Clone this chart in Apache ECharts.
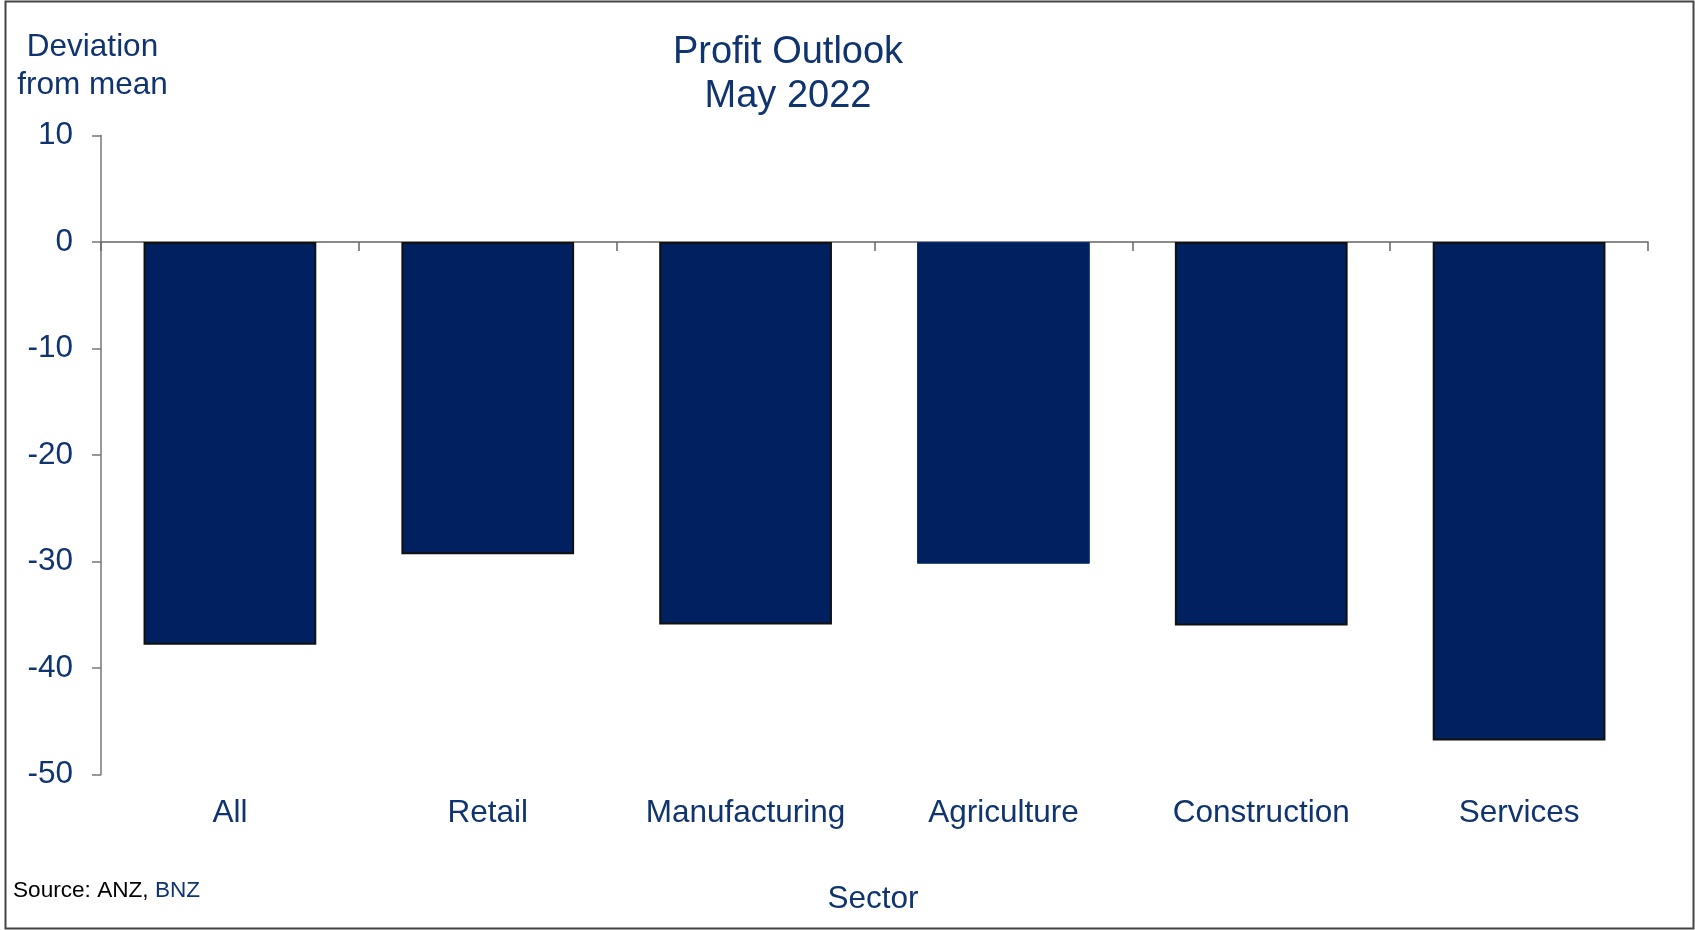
<!DOCTYPE html>
<html>
<head>
<meta charset="utf-8">
<script src="https://cdn.jsdelivr.net/npm/echarts@6/dist/echarts.min.js"></script>
<style>
html,body{margin:0;padding:0;background:#fff;}
#chart{width:1695px;height:930px;}
</style>
</head>
<body>
<div id="chart"></div>
<script>
const categories = ['All', 'Retail', 'Manufacturing', 'Agriculture', 'Construction', 'Services'];
const profitDeviation = [-37.8, -29.3, -35.9, -30.2, -36.0, -46.8];
const yMin = -50, yMax = 10, yStep = 10;

const FONT = "'Liberation Sans', Arial, sans-serif";
const TEXT = '#0f3470';
const BAR = '#002060';

const chart = echarts.init(document.getElementById('chart'), null, {renderer: 'canvas'});

const barData = profitDeviation.map((v, i) => ({
  value: v,
  itemStyle: categories[i] === 'Agriculture'
    ? {color: BAR, borderColor: '#0a2c6a', borderWidth: 1}
    : {color: BAR, borderColor: '#111', borderWidth: 2}
}));

chart.setOption({
  animation: false,
  backgroundColor: '#fff',
  textStyle: {fontFamily: FONT},
  title: [
    {text: 'Profit Outlook\nMay 2022', left: 788, top: 31, padding: 0, textAlign: 'center',
     textStyle: {fontFamily: FONT, fontSize: 38, fontWeight: 'normal', lineHeight: 44, color: TEXT}},
    {text: 'Deviation\nfrom mean', left: 92.5, top: 28, padding: 0, textAlign: 'center',
     textStyle: {fontFamily: FONT, fontSize: 31.5, fontWeight: 'normal', lineHeight: 38, color: TEXT}},
    {text: 'Sector', left: 873, top: 884, padding: 0, textAlign: 'center',
     textStyle: {fontFamily: FONT, fontSize: 31.5, fontWeight: 'normal', lineHeight: 31, color: TEXT}},
    {text: '{a|Source: ANZ, }{b|BNZ}', left: 13, top: 879, padding: 0,
     textStyle: {fontFamily: FONT, fontSize: 22.6, fontWeight: 'normal', lineHeight: 23,
       rich: {a: {fontFamily: FONT, fontSize: 22.6, color: '#000', lineHeight: 23},
              b: {fontFamily: FONT, fontSize: 22.6, color: TEXT, lineHeight: 23}}}}
  ],
  grid: {left: 101, right: 47, top: 135.5, bottom: 155.3, containLabel: false},
  xAxis: [
    {
      type: 'category', data: categories, position: 'bottom',
      axisLine: {show: false, onZero: false}, axisTick: {show: false},
      axisLabel: {color: TEXT, fontSize: 31.5, fontFamily: FONT, margin: 23, interval: 0}
    },
    {
      type: 'category', data: categories, position: 'bottom',
      axisLine: {show: true, onZero: true, lineStyle: {color: '#666', width: 1.5}},
      axisTick: {show: true, length: 9, lineStyle: {color: '#666', width: 1.5}},
      axisLabel: {show: false}
    }
  ],
  yAxis: {
    type: 'value', min: yMin, max: yMax, interval: yStep,
    axisLine: {show: true, lineStyle: {color: '#777', width: 1.5}},
    axisTick: {show: true, length: 9, lineStyle: {color: '#777', width: 1.5}},
    splitLine: {show: false},
    axisLabel: {color: TEXT, fontSize: 31.5, fontFamily: FONT, margin: 28}
  },
  series: [{
    type: 'bar', xAxisIndex: 0, data: barData, barWidth: '67%'
  }],
  graphic: [{
    type: 'rect', silent: true, z: 100,
    shape: {x: 5.5, y: 1.5, width: 1688, height: 927},
    style: {fill: 'none', stroke: '#444', lineWidth: 2}
  }]
});
</script>
</body>
</html>
